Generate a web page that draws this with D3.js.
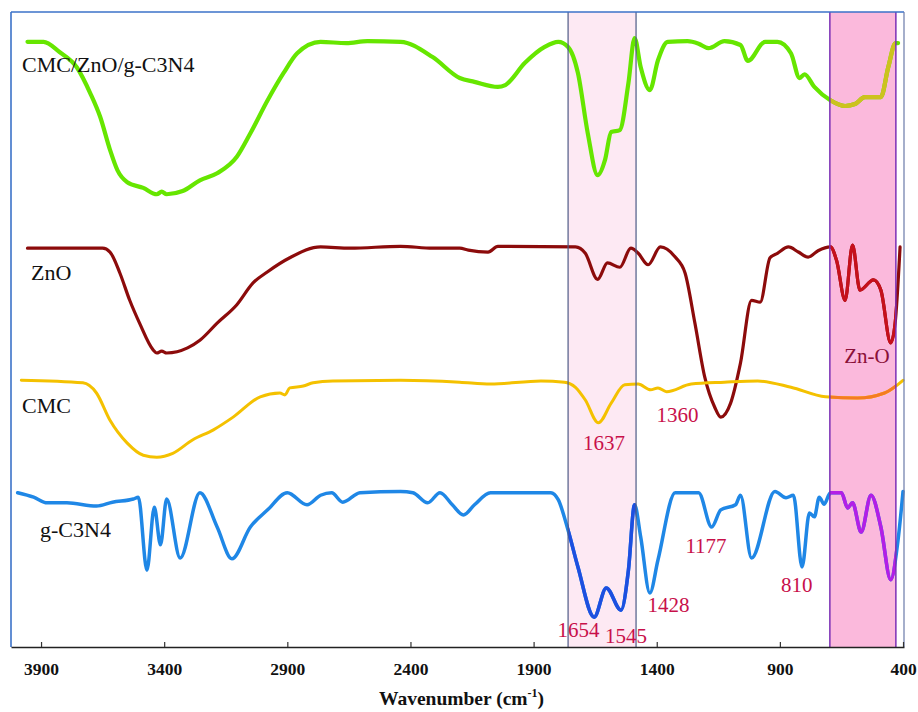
<!DOCTYPE html>
<html>
<head>
<meta charset="utf-8">
<script src="https://cdn.jsdelivr.net/npm/d3@7"></script>
<style>
body { margin: 0; background: #fff; }
svg text { font-family: "Liberation Serif", "Times New Roman", serif; }
</style>
</head>
<body>
<div id="chart"></div>
<script>
// FTIR spectra, values: [wavenumber, transmittance (offset, a.u.)]
var tickValues = [3900, 3400, 2900, 2400, 1900, 1400, 900, 400];

var composite = [[3955,95.3],[3890,95.3],[3825,93.7],[3755,91.3],[3700,87.2],[3660,83.5],[3620,78.3],[3590,75.1],
  [3550,73.2],[3485,72.3],[3430,71.3],[3410,71.7],[3390,71.3],[3325,71.8],[3255,73.5],[3185,74.6],[3105,77.2],
  [3050,80.9],[2980,86.1],[2915,90.4],[2860,93.5],[2765,95.3],[2660,95.1],[2575,95.4],[2440,95.3],[2310,92.9],
  [2200,89.6],[2140,89.0],[2045,88.2],[2015,88.5],[1935,92.0],[1855,94.5],[1800,95.3],[1760,94.5],[1720,90.4],
  [1680,80.9],[1640,74.3],[1610,76.7],[1585,81.1],[1550,81.4],[1515,88.8],[1490,95.9],[1465,91.3],[1428,87.7],
  [1395,92.4],[1355,95.3],[1275,95.4],[1230,95.0],[1190,94.3],[1125,95.4],[1060,94.8],[1030,92.3],[960,95.3],
  [910,95.3],[855,93.5],[820,89.6],[800,90.2],[760,88.2],[695,86.1],[635,85.2],[595,85.5],[555,86.6],[490,86.6],
  [460,91.3],[430,95.1],[420,95.1]];

var zno = [[3955,62.8],[3650,62.8],[3620,62.2],[3580,58.9],[3540,54.6],[3500,51.0],[3445,46.8],[3430,46.3],
  [3410,46.6],[3390,46.3],[3305,47.1],[3255,48.3],[3185,51.0],[3105,53.9],[3040,57.3],[2980,59.1],[2890,61.3],
  [2765,63.0],[2645,62.8],[2440,63.1],[2310,62.8],[2200,62.8],[2165,62.5],[2085,62.2],[2045,63.1],[1730,63.0],
  [1690,62.0],[1640,57.9],[1600,60.5],[1550,59.8],[1505,62.8],[1475,62.0],[1435,60.2],[1385,63.0],[1325,61.4],
  [1285,58.9],[1245,51.0],[1205,42.5],[1165,37.8],[1140,36.2],[1100,38.4],[1060,44.7],[1015,54.6],[980,54.3],
  [940,61.3],[910,62.0],[865,63.0],[825,62.2],[785,61.4],[745,62.4],[695,63.0],[670,60.9],[635,54.6],[605,63.3],
  [575,56.2],[520,57.8],[490,56.2],[450,47.9],[432,51.0],[412,63.0]];

var cmc = [[3980,42.0],[3730,41.6],[3675,40.0],[3620,35.7],[3550,32.1],[3485,30.2],[3430,29.9],[3365,30.5],
  [3285,32.6],[3200,34.2],[3120,36.2],[3010,39.4],[2930,40.0],[2910,39.7],[2890,40.8],[2835,41.1],[2795,41.6],
  [2715,41.9],[2440,42.0],[2200,41.7],[2075,41.4],[1870,41.9],[1775,41.7],[1730,40.9],[1690,38.9],[1637,35.3],
  [1585,38.4],[1530,41.3],[1475,41.4],[1425,40.5],[1395,40.8],[1360,40.2],[1260,41.4],[1125,41.7],[990,41.9],
  [855,40.9],[715,39.4],[585,39.2],[475,40.0],[400,42.0]];

var gc3n4 = [[3995,24.3],[3930,23.6],[3875,22.7],[3795,22.7],[3675,22.2],[3610,22.8],[3525,23.3],[3505,23.6],
  [3470,12.1],[3440,22.0],[3415,16.1],[3390,23.3],[3335,14.0],[3255,24.3],[3185,18.9],[3125,13.9],[3050,18.9],
  [2980,21.6],[2900,24.3],[2820,22.4],[2765,23.9],[2720,24.3],[2675,22.8],[2605,24.3],[2440,24.5],[2390,24.3],
  [2330,22.7],[2280,24.3],[2230,22.4],[2185,20.8],[2140,22.4],[2075,24.3],[1830,24.3],[1800,23.2],[1760,18.4],
  [1720,12.6],[1654,4.7],[1605,9.3],[1545,5.8],[1515,12.1],[1490,22.4],[1465,17.3],[1428,8.5],[1395,13.7],
  [1325,24.3],[1230,24.3],[1177,18.9],[1140,21.6],[1080,22.4],[1060,23.9],[1015,14.0],[920,24.5],[875,23.5],
  [845,23.9],[810,12.6],[780,21.1],[760,20.5],[740,23.6],[720,22.5],[695,24.3],[650,24.3],[625,21.9],[605,22.7],
  [570,18.1],[530,23.9],[490,18.9],[450,10.6],[420,16.9],[400,24.5]];

var seriesNames = ["CMC/ZnO/g-C3N4", "ZnO", "CMC", "g-C3N4"];
var seriesLabelWn = [3977, 3941, 3977, 3904];
var seriesLabelT = [90.6, 57.8, 36.9, 17.3];

var peakLabels = ["1637", "1360", "Zn-O", "1654", "1545", "1428", "1177", "810"];
var peakLabelWn = [1614, 1316, 546, 1718, 1525, 1352, 1200, 831];
var peakLabelT = [31.0, 35.4, 44.7, 1.6, 0.6, 5.5, 14.8, 8.7];

// highlighted regions (wavenumber ranges)
var amideBand = [1760, 1484];
var znoBand = [697, 429];

var svgWidth = 918;
var svgHeight = 712;
var margin = { top: 12, right: 14, bottom: 65, left: 11 };
var width = svgWidth - margin.left - margin.right;
var height = svgHeight - margin.top - margin.bottom;

var svg = d3.select("#chart")
    .append("svg")
    .attr("width", svgWidth)
    .attr("height", svgHeight);

var chartGroup = svg.append("g")
    .attr("transform", `translate(${margin.left}, ${margin.top})`);

var x = d3.scaleLinear().domain([4022, 396]).range([0, width]);
var y = d3.scaleLinear().domain([0, 100]).range([height, 0]);

// bands behind the curves
chartGroup.append("rect")
    .attr("x", x(amideBand[0]))
    .attr("width", x(amideBand[1]) - x(amideBand[0]))
    .attr("y", 0)
    .attr("height", height)
    .attr("fill", "#fde9f3");
chartGroup.append("rect")
    .attr("x", x(znoBand[0]))
    .attr("width", x(znoBand[1]) - x(znoBand[0]))
    .attr("y", 0)
    .attr("height", height)
    .attr("fill", "#fbb9dc");

var defs = svg.append("defs");
defs.append("clipPath").attr("id", "clipAmide")
    .append("rect")
    .attr("x", x(amideBand[0])).attr("width", x(amideBand[1]) - x(amideBand[0]))
    .attr("y", -10).attr("height", height + 20);
defs.append("clipPath").attr("id", "clipZno")
    .append("rect")
    .attr("x", x(znoBand[0])).attr("width", x(znoBand[1]) - x(znoBand[0]))
    .attr("y", -10).attr("height", height + 20);

var line = d3.line()
    .x(d => x(d[0]))
    .y(d => y(d[1]))
    .curve(d3.curveMonotoneX);

var spectra = [
    { data: composite, color: "#66e600", width: 4.2, amide: null, zno: "#cdc21e" },
    { data: zno, color: "#8c0b0b", width: 3.2, amide: null, zno: "#c6101c" },
    { data: cmc, color: "#f4c100", width: 3, amide: null, zno: "#f57b22" },
    { data: gc3n4, color: "#1f87e6", width: 3.5, amide: "#1d4fe0", zno: "#b41ee6" }
];

spectra.forEach(function(s) {
    chartGroup.append("path")
        .datum(s.data)
        .attr("d", line)
        .attr("fill", "none")
        .attr("stroke", s.color)
        .attr("stroke-width", s.width)
        .attr("stroke-linejoin", "round")
        .attr("stroke-linecap", "round");
    if (s.amide) {
        chartGroup.append("path")
            .datum(s.data)
            .attr("d", line)
            .attr("clip-path", "url(#clipAmide)")
            .attr("fill", "none")
            .attr("stroke", s.amide)
            .attr("stroke-width", s.width)
            .attr("stroke-linejoin", "round");
    }
    chartGroup.append("path")
        .datum(s.data)
        .attr("d", line)
        .attr("clip-path", "url(#clipZno)")
        .attr("fill", "none")
        .attr("stroke", s.zno)
        .attr("stroke-width", s.width)
        .attr("stroke-linejoin", "round");
});

// band edges
[amideBand[0], amideBand[1]].forEach(function(w) {
    chartGroup.append("line")
        .attr("x1", x(w)).attr("x2", x(w))
        .attr("y1", 0).attr("y2", height)
        .attr("stroke", "#4d5a86")
        .attr("stroke-width", 1.2);
});
[znoBand[0], znoBand[1]].forEach(function(w) {
    chartGroup.append("line")
        .attr("x1", x(w)).attr("x2", x(w))
        .attr("y1", 0).attr("y2", height)
        .attr("stroke", "#7b2fb5")
        .attr("stroke-width", 1.5);
});

// series names
chartGroup.selectAll(".seriesLabel")
    .data(seriesNames)
    .enter()
    .append("text")
    .attr("class", "seriesLabel")
    .attr("x", (d, i) => x(seriesLabelWn[i]))
    .attr("y", (d, i) => y(seriesLabelT[i]))
    .attr("font-size", 22)
    .attr("fill", "#111")
    .text(d => d);

// peak labels
chartGroup.selectAll(".peakLabel")
    .data(peakLabels)
    .enter()
    .append("text")
    .attr("class", "peakLabel")
    .attr("x", (d, i) => x(peakLabelWn[i]))
    .attr("y", (d, i) => y(peakLabelT[i]))
    .attr("text-anchor", "middle")
    .attr("font-size", 21)
    .attr("fill", d => d == "Zn-O" ? "#8a1038" : "#c8104a")
    .text(d => d);

// frame
chartGroup.append("line")
    .attr("x1", 0).attr("x2", 0).attr("y1", 0).attr("y2", height)
    .attr("stroke", "#3b72c8").attr("stroke-width", 1.6);
chartGroup.append("line")
    .attr("x1", 0).attr("x2", width).attr("y1", 0).attr("y2", 0)
    .attr("stroke", "#3b72c8").attr("stroke-width", 1.6);
chartGroup.append("line")
    .attr("x1", width).attr("x2", width).attr("y1", 0).attr("y2", height)
    .attr("stroke", "#6a7aa8").attr("stroke-width", 1.2);

var bottomAxis = d3.axisBottom(x)
    .tickValues(tickValues)
    .tickSizeInner(-5)
    .tickSizeOuter(0)
    .tickFormat(d3.format("d"));

var axisG = chartGroup.append("g")
    .attr("transform", `translate(0, ${height})`)
    .call(bottomAxis);
axisG.select(".domain").attr("stroke", "#222").attr("stroke-width", 1.6);
axisG.selectAll(".tick line").attr("stroke", "#333").attr("stroke-width", 1.2);
axisG.selectAll(".tick text")
    .attr("y", 28)
    .attr("dy", 0)
    .attr("fill", "#111")
    .attr("font-size", 17.5)
    .attr("font-weight", "bold")
    .attr("font-family", "Liberation Serif, serif");

var title = chartGroup.append("text")
    .attr("x", width / 2 + 4)
    .attr("y", height + 58)
    .attr("text-anchor", "middle")
    .attr("font-size", 19.5)
    .attr("font-weight", "bold")
    .attr("fill", "#111");
title.append("tspan").text("Wavenumber (cm");
title.append("tspan").attr("font-size", 12).attr("dy", -8).text("-1");
title.append("tspan").attr("dy", 8).text(")");
</script>
</body>
</html>
